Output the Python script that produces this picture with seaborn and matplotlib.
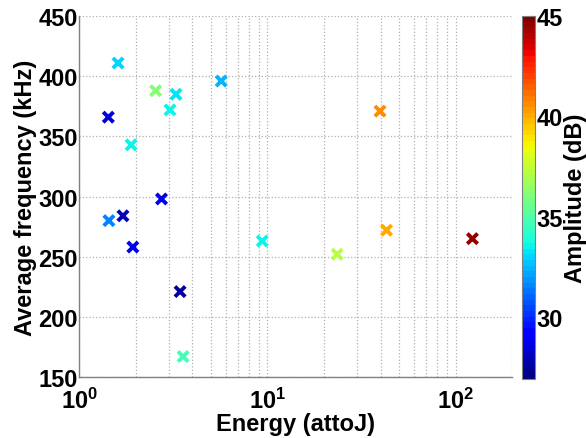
import numpy as np
import pandas as pd
import matplotlib
matplotlib.use("Agg")
import matplotlib.pyplot as plt
import matplotlib.ticker as mticker
import seaborn as sns

sns.set_style("white")
plt.rcParams['font.family'] = ['Liberation Sans', 'DejaVu Sans']
plt.rcParams['font.weight'] = 'bold'
plt.rcParams['text.color'] = 'black'
plt.rcParams['axes.labelcolor'] = 'black'
plt.rcParams['mathtext.fontset'] = 'custom'
plt.rcParams['mathtext.rm'] = 'Liberation Sans:bold'
plt.rcParams['mathtext.bf'] = 'Liberation Sans:bold'
plt.rcParams['mathtext.it'] = 'Liberation Sans:bold'

energy = [1.43, 1.61, 2.55, 3.27, 3.04, 5.69, 1.89, 2.74, 1.44, 1.71,
          1.93, 3.44, 3.57, 9.4, 39.7, 43.0, 23.5, 123.0]
freq = [366, 411, 388, 385, 372, 396, 343, 298, 280, 284,
        258, 221, 167, 263, 371, 272, 252, 265]
amplitude = [28.5, 33.0, 36.0, 33.4, 33.6, 32.4, 33.6, 28.8, 31.5, 27.8,
             28.8, 27.6, 34.8, 33.6, 40.6, 40.0, 37.3, 44.6]

xlim = (1, 200)
ylim = (150, 450)
clim = (26.9, 45)
yticks = [150, 200, 250, 300, 350, 400, 450]
cticks = [30, 35, 40, 45]

FS = 17

df = pd.DataFrame({"Energy": energy, "Freq": freq, "Amp": amplitude})
cmap = plt.get_cmap('jet', 64)
norm = matplotlib.colors.Normalize(*clim)

fig = plt.figure(figsize=(5.86, 4.39), dpi=100)
ax = fig.add_axes([0.135, 0.139, 0.739, 0.822])
cax = fig.add_axes([0.891, 0.134, 0.022, 0.827])

sns.scatterplot(data=df, x="Energy", y="Freq", hue="Amp", palette=cmap,
                hue_norm=norm, marker='x', s=55, linewidth=2.8,
                legend=False, ax=ax, zorder=3)
ax.set_xscale('log')
ax.set_xlim(*xlim)
ax.set_ylim(*ylim)
ax.set_yticks(yticks)
ax.xaxis.set_major_locator(mticker.LogLocator(base=10))
ax.xaxis.set_major_formatter(mticker.FuncFormatter(
    lambda v, p: r'$\mathbf{10^{%d}}$' % round(np.log10(v))))
ax.xaxis.set_minor_locator(mticker.LogLocator(base=10, subs=np.arange(2, 10)))
ax.xaxis.set_minor_formatter(mticker.NullFormatter())
ax.grid(True, which='major', axis='both', linestyle=':', color='#b0b0b0', linewidth=0.9)
ax.grid(True, which='minor', axis='x', linestyle=':', color='#b0b0b0', linewidth=0.9)
ax.set_axisbelow(True)
for s in ['top', 'right']:
    ax.spines[s].set_visible(False)
for s in ['left', 'bottom']:
    ax.spines[s].set_color('#808080')
    ax.spines[s].set_linewidth(1.0)
ax.tick_params(axis='both', which='both', direction='in', colors='#808080',
               labelcolor='black', labelsize=FS)
ax.tick_params(axis='x', which='major', length=5, pad=8)
ax.tick_params(axis='x', which='minor', length=3)
ax.tick_params(axis='y', length=5, pad=1)
for lab in ax.get_yticklabels():
    lab.set_fontweight('bold')
ax.set_xlabel('Energy (attoJ)', fontsize=FS, fontweight='bold', labelpad=-1)
ax.set_ylabel('Average frequency (kHz)', fontsize=FS, fontweight='bold', labelpad=1)

sm = matplotlib.cm.ScalarMappable(norm=norm, cmap=cmap)
cb = fig.colorbar(sm, cax=cax)
cb.set_ticks(cticks)
cb.outline.set_edgecolor('#808080')
cb.outline.set_linewidth(0.8)
cax.tick_params(labelsize=FS, direction='in', length=4, colors='#404040',
                labelcolor='black', pad=1)
for lab in cax.get_yticklabels():
    lab.set_fontweight('bold')
cb.set_label('Amplitude (dB)', fontsize=FS, fontweight='bold', labelpad=1)

fig.savefig('out.png', dpi=100)
